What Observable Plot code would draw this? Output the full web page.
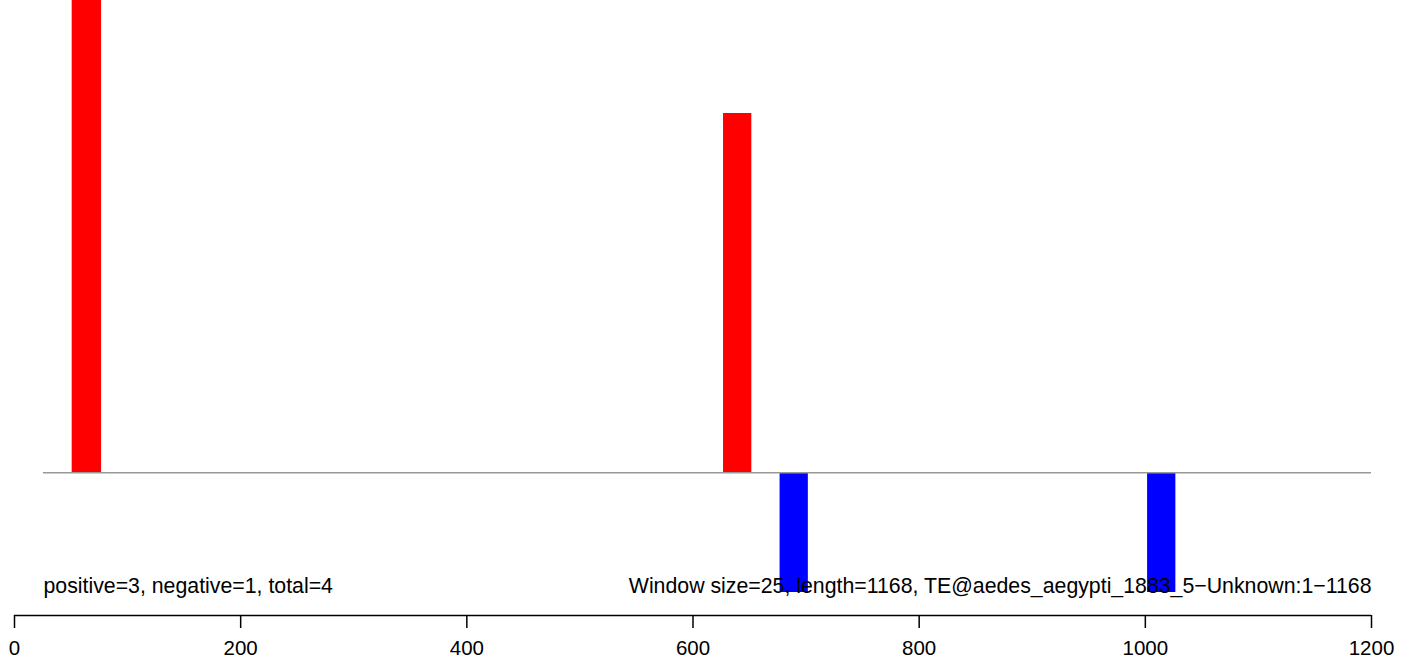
<!DOCTYPE html>
<html>
<head>
<meta charset="utf-8">
<script src="https://cdn.jsdelivr.net/npm/d3@7"></script>
<script src="https://cdn.jsdelivr.net/npm/@observablehq/plot@0.6"></script>
<style>
  html, body { margin: 0; padding: 0; background: #fff; }
  #chart svg { display: block; }
</style>
</head>
<body>
<div id="chart"></div>
<script>
// Window start / end positions along the TE (bp) and signed counts
const posStart = [51, 627];
const posEnd   = [77, 652];
const posValue = [4.2, 3];
const negStart = [677, 1002];
const negEnd   = [702, 1027];
const negValue = [-1, -1];
const xTicks = [0, 200, 400, 600, 800, 1000, 1200];
const leftLabel = "positive=3, negative=1, total=4";
const rightLabel = "Window size=25, length=1168, TE@aedes_aegypti_1883_5\u2212Unknown:1\u22121168";
const baselineStart = 25.6;
const xMax = 1200;

const bars = [
  ...posStart.map((s, i) => ({x1: s, x2: posEnd[i], v: posValue[i], sign: "pos"})),
  ...negStart.map((s, i) => ({x1: s, x2: negEnd[i], v: negValue[i], sign: "neg"}))
];

const chart = Plot.plot({
  width: 1415,
  height: 666,
  marginTop: 0,
  marginBottom: 51,
  marginLeft: 0,
  marginRight: 0,
  style: {fontFamily: "'Liberation Sans', Arial, Helvetica, sans-serif", background: "#fff"},
  x: {domain: [0, xMax], range: [14, 1371], axis: null},
  y: {domain: [-1, 3], range: [592, 113], axis: null},
  color: {domain: ["pos", "neg"], range: ["#ff0000", "#0000ff"]},
  marks: [
    Plot.rect(bars, {x1: "x1", x2: "x2", y1: 0, y2: "v", fill: "sign", clip: true}),
    Plot.ruleY([0], {x1: baselineStart, x2: xMax, stroke: "#999999", strokeWidth: 1.6}),
    Plot.text([leftLabel], {x: baselineStart, y: -1, text: d => d, textAnchor: "start", lineAnchor: "bottom", fontSize: 21.3, fill: "#000"}),
    Plot.text([rightLabel], {x: xMax, y: -1, text: d => d, textAnchor: "end", lineAnchor: "bottom", fontSize: 21.3, fill: "#000"}),
    Plot.ruleY([-1], {x1: 0, x2: xMax, dy: 23, stroke: "#000", strokeWidth: 1.5}),
    Plot.axisX(xTicks, {anchor: "bottom", tickSize: 13, tickPadding: 12, fontSize: 20.5, stroke: "#000", strokeWidth: 1.5, fill: "#000", tickFormat: d => String(d)})
  ]
});
document.getElementById("chart").appendChild(chart);
</script>
</body>
</html>
